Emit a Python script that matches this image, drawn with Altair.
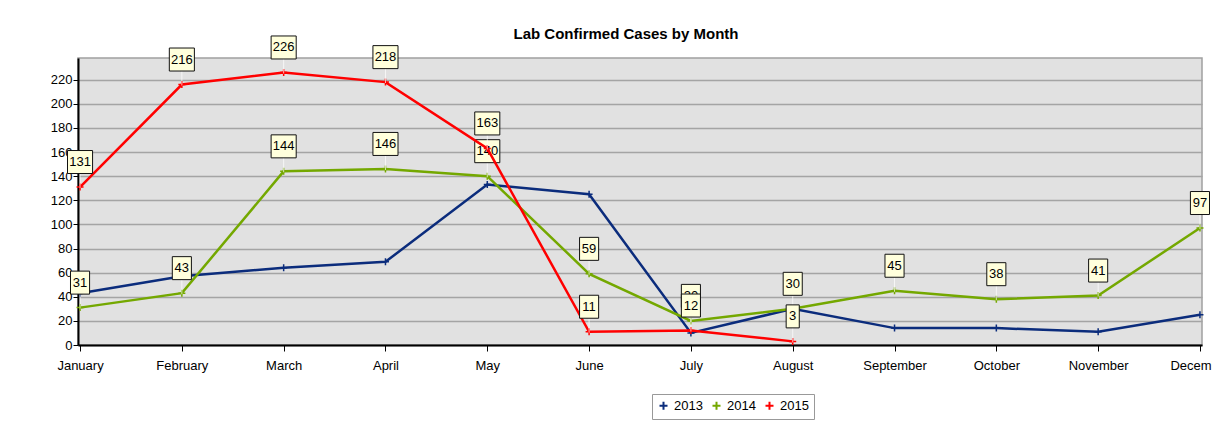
import altair as alt
import pandas as pd

months = ["January", "February", "March", "April", "May", "June", "July",
          "August", "September", "October", "November", "December"]
years = ["2013", "2014", "2015"]
cases_2013 = [43, 57, 64, 69, 133, 125, 10, 30, 14, 14, 11, 25]
cases_2014 = [31, 43, 144, 146, 140, 59, 20, 30, 45, 38, 41, 97]
cases_2015 = [131, 216, 226, 218, 163, 11, 12, 3]
y_ticks = list(range(0, 221, 20))

colors = ["#0b2c7c", "#74a800", "#ff0000"]
FONT = "Liberation Sans"

rows = []
for yr, vals in zip(years, [cases_2013, cases_2014, cases_2015]):
    for m, v in zip(months, vals):
        rows.append({"month": m, "year": yr, "cases": v})
df = pd.DataFrame(rows)

x_enc = alt.X("month:N", sort=months,
              scale=alt.Scale(type="point", padding=0.02),
              axis=alt.Axis(title=None, labelAngle=0, tickSize=6, tickColor="#000",
                            labelPadding=8, domainColor="#000", domainWidth=2,
                            grid=False, labelFontSize=13, labelColor="#000"))
y_enc = alt.Y("cases:Q", scale=alt.Scale(domain=[0, 238], nice=False),
              axis=alt.Axis(title=None, values=y_ticks, tickSize=5, tickColor="#000",
                            labelPadding=1, domainColor="#000", domainWidth=2,
                            gridColor="#a4a4a4", gridWidth=1.5, labelFontSize=13,
                            labelColor="#000"))
color_scale = alt.Scale(domain=years, range=colors)

plus = "M-1,0L1,0M0,-1L0,1"
layers = []
for yr in years:
    base = alt.Chart(df).transform_filter(alt.datum.year == yr)
    leg = alt.Legend(title=None) if yr == "2013" else None
    layers.append(base.mark_line(strokeWidth=2.5).encode(
        x=x_enc, y=y_enc,
        color=alt.Color("year:N", scale=color_scale, legend=leg)))
    layers.append(base.mark_point(shape=plus, size=49, strokeWidth=1.5, filled=False, opacity=1).encode(
        x=x_enc, y=y_enc,
        color=alt.Color("year:N", scale=color_scale, legend=None)))
    if yr == "2013":
        continue
    layers.append(base.mark_tick(orient="vertical", color="white", thickness=1, size=16, yOffset=-7).encode(
        x=x_enc, y=y_enc))
    for lo, hi, half in [(0, 10, 0.57), (10, 100, 0.83), (100, 1000, 1.09)]:
        box_path = f"M-{half},-1L{half},-1L{half},1L-{half},1Z"
        layers.append(base.transform_filter((alt.datum.cases >= lo) & (alt.datum.cases < hi))
                      .mark_point(shape=box_path, size=529, filled=True, fill="#ffffdc",
                                  stroke="#111", strokeWidth=1, opacity=1, yOffset=-25)
                      .encode(x=x_enc, y=y_enc))
    layers.append(base.mark_text(dy=-25, baseline="middle", align="center", fontSize=13,
                                 font=FONT, color="#000").encode(
        x=x_enc, y=y_enc, text="cases:Q"))

chart = alt.layer(*layers).properties(
    width=1124, height=287,
    title=alt.TitleParams("Lab Confirmed Cases by Month", fontSize=15, font=FONT,
                          fontWeight="bold", anchor="middle", offset=-8, dx=-14, color="#000"),
    autosize=alt.AutoSizeParams(type="none"),
    padding={"left": 70, "top": 50, "right": 10, "bottom": 86},
).configure_view(fill="#e1e1e1", stroke="#a0a0a0", strokeWidth=1.5
).configure_axis(labelFont=FONT
).configure_legend(orient="none", legendX=574, legendY=336, direction="horizontal",
                   strokeColor="#999", fillColor="white", padding=5, labelFont=FONT,
                   labelFontSize=13, labelColor="#000", symbolType=plus, symbolSize=64,
                   symbolStrokeWidth=2, columnPadding=5, labelOffset=4)

chart.save("out.html", embed_options={"renderer": "svg", "actions": False})
